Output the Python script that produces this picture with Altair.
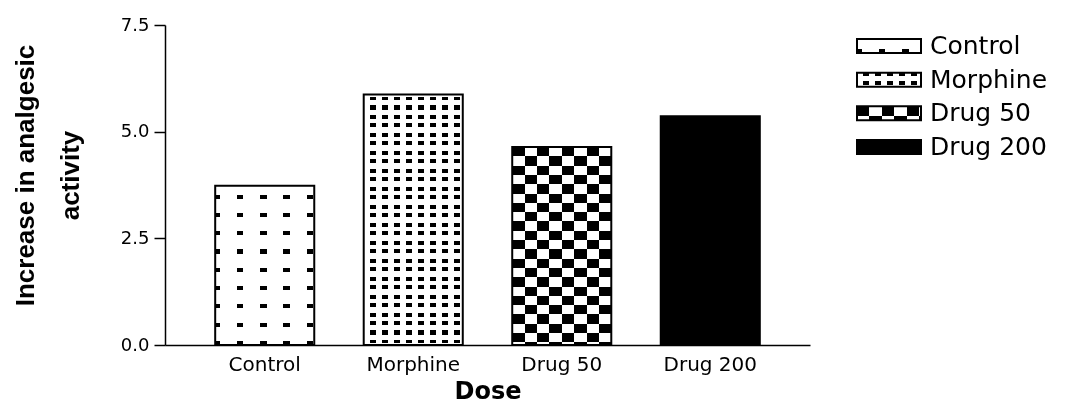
import math
import altair as alt
import pandas as pd

# ---- data ----
categories = ["Control", "Morphine", "Drug 50", "Drug 200"]
values = [3.73, 5.87, 4.64, 5.36]
y_ticks = [0.0, 2.5, 5.0, 7.5]
y_title = ["Increase in analgesic", "activity"]
x_title = "Dose"

df = pd.DataFrame({"dose": categories, "value": values})

# ---- layout / style ----
W, H = 645, 320
YMAX = 7.5
P_IN, P_OUT = 0.333, 0.338
STEP = W / (len(categories) - P_IN + 2 * P_OUT)
BAR_W = STEP * (1 - P_IN)
SW_W, SW_H = 64, 14  # legend swatch size
CLEAR = "rgba(255,255,255,0)"
FONT = "DejaVu Sans"


def bands(L, period, on_len, phase, on_c, off_c, from_end=False):
    segs = []
    cur = 0.0
    s = phase - period
    while s < L:
        a, b = max(s, 0.0), min(s + on_len, L)
        if b > 0 and b > a:
            if a > cur:
                segs.append((cur, a, off_c))
            segs.append((a, b, on_c))
            cur = b
        s += period
    if cur < L:
        segs.append((cur, L, off_c))
    if from_end:
        segs = [(L - b, L - a, c) for a, b, c in reversed(segs)]
    return segs


def grad(segs, L, horizontal):
    stops = []
    for a, b, c in segs:
        stops.append(alt.GradientStop(offset=round(max(0, min(1, a / L)), 5), color=c))
        stops.append(alt.GradientStop(offset=round(max(0, min(1, b / L)), 5), color=c))
    if horizontal:
        return alt.LinearGradient(gradient="linear", x1=0, y1=0, x2=1, y2=0, stops=stops)
    return alt.LinearGradient(gradient="linear", x1=0, y1=0, x2=0, y2=1, stops=stops)


# pattern parameters per category (pixel units)
PAT = {
    "Control": dict(kind="dots", px=23.3, dx=6.5, ph=-1.6, py=18.3, dy=4.0, phy=0.0),
    "Morphine": dict(kind="dots", px=12.05, dx=6.0, ph=6.0, py=9.0, dy=4.0, phy=1.5),
    "Drug 50": dict(kind="check", px=BAR_W / 8, py=9.3),
    "Drug 200": dict(kind="solid"),
}


def pattern_layers(base, cat, w, h, bar_kw):
    p = PAT[cat]
    b = base.transform_filter(alt.datum.dose == cat)
    if p["kind"] == "solid":
        return [b.mark_bar(fill="black", strokeWidth=0, **bar_kw)]
    if p["kind"] == "dots":
        cols = grad(bands(w, p["px"], p["dx"], p["ph"], "black", "white"), w, True)
        rows = grad(bands(h, p["py"], p["dy"], p["phy"], CLEAR, "white", from_end=True), h, False)
        return [b.mark_bar(fill=cols, strokeWidth=0, **bar_kw),
                b.mark_bar(fill=rows, strokeWidth=0, **bar_kw)]
    cols = grad(bands(w, 2 * p["px"], p["px"], 0, "black", "white"), w, True)
    rows = grad(bands(h, 2 * p["py"], p["py"], p["py"], "white", CLEAR), h, False)
    return [b.mark_bar(fill=cols, strokeWidth=0, **bar_kw),
            b.mark_bar(fill=rows, strokeWidth=0, blend="difference", **bar_kw)]


# ---- main bar chart ----
base = alt.Chart(df).encode(
    x=alt.X("dose:N", sort=categories,
            scale=alt.Scale(domain=categories, paddingInner=P_IN, paddingOuter=P_OUT),
            axis=alt.Axis(title=x_title, labelAngle=0, ticks=False, labelPadding=9,
                          labelFontSize=20, titleFontSize=24, titleFontWeight="bold",
                          titlePadding=5, domainColor="black", domainWidth=1.5,
                          labelColor="black", titleColor="black",
                          labelFont=FONT, titleFont=FONT)),
    y=alt.Y("value:Q", scale=alt.Scale(domain=[0, YMAX], nice=False, zero=True),
            axis=alt.Axis(values=y_ticks, format=".1f", title=y_title, grid=False,
                          tickSize=11, tickColor="black", tickWidth=1.5,
                          domainColor="black", domainWidth=1.5,
                          labelFontSize=18, labelPadding=5, labelColor="black",
                          labelFont=FONT,
                          titleFont="Liberation Sans Narrow, Liberation Sans, sans-serif",
                          titleFontSize=26, titleFontWeight="bold", titleColor="black",
                          titleLineHeight=45, titlePadding=37, titleY=150)),
)

layers = []
for c, v in zip(categories, values):
    h = v / YMAX * H
    layers += pattern_layers(base, c, BAR_W, h, {})
layers.append(base.mark_bar(fillOpacity=0, stroke="black", strokeWidth=2))

main = alt.layer(*layers).properties(width=W, height=H)

# ---- custom pattern legend ----
lscale = alt.Scale(domain=categories, paddingInner=0, paddingOuter=0.125)
lbase = alt.Chart(df).encode(
    y=alt.Y("dose:N", sort=categories, scale=lscale, axis=None),
    x=alt.value(0), x2=alt.value(SW_W),
)
lkw = dict(height=SW_H)
llayers = []
for c in categories:
    llayers += pattern_layers(lbase, c, SW_W, SW_H, lkw)
llayers.append(lbase.mark_bar(fillOpacity=0, stroke="black", strokeWidth=2, height=SW_H))
llayers.append(alt.Chart(df).mark_text(align="left", baseline="middle", fontSize=25,
                                        font=FONT, color="black").encode(
    y=alt.Y("dose:N", sort=categories, scale=lscale, axis=None),
    x=alt.value(SW_W + 9), text="dose:N"))
legend = alt.layer(*llayers).properties(width=180, height=143)

chart = alt.hconcat(main, legend, spacing=46).configure_view(stroke=None).properties(
    padding={"left": 4, "top": 8, "right": 0, "bottom": 0})

chart.save("out.html", embed_options={"renderer": "svg", "actions": False})
